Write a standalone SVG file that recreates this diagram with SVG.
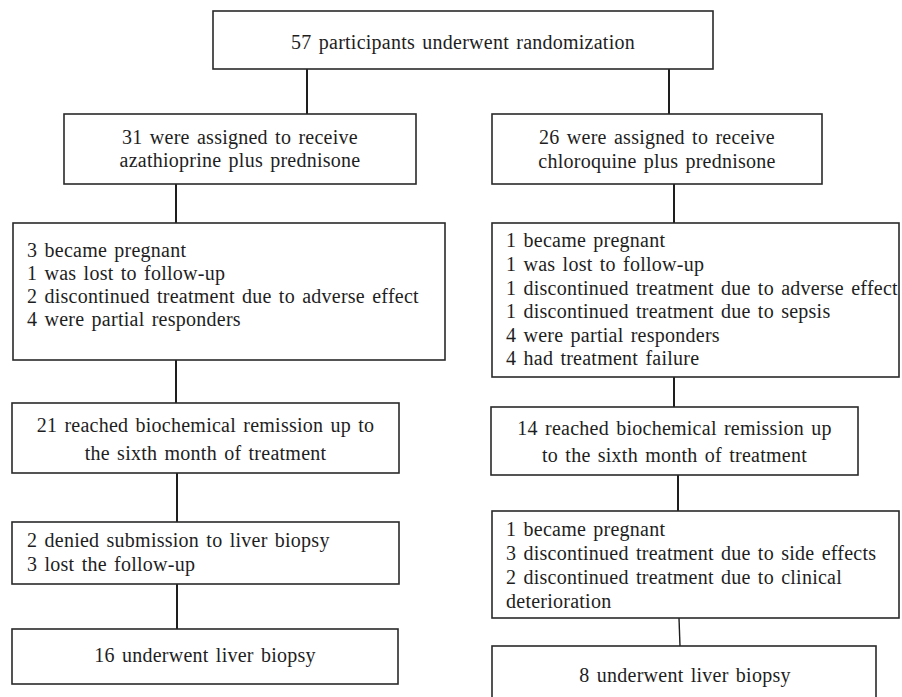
<svg xmlns="http://www.w3.org/2000/svg" width="902" height="697" viewBox="0 0 902 697">
<style>
.box{fill:#fff;stroke:#2a2a2a;stroke-width:1.6}
.t{font-family:"Liberation Serif","Times New Roman",serif;font-size:20px;fill:#1e1e1e;word-spacing:2px;letter-spacing:0.25px}
.c{text-anchor:middle}
.ln{stroke:#1e1e1e;stroke-width:2;fill:none}
</style>
<rect width="902" height="697" fill="#fff"/>
<g id="connectors">
<line class="ln" x1="307" y1="69" x2="307" y2="114"/>
<line class="ln" x1="669" y1="69" x2="669" y2="114"/>
<line class="ln" x1="176" y1="184" x2="176" y2="223"/>
<line class="ln" x1="176" y1="360" x2="176" y2="403"/>
<line class="ln" x1="177" y1="473" x2="177" y2="522"/>
<line class="ln" x1="177" y1="584" x2="177" y2="629"/>
<line class="ln" x1="674" y1="184" x2="674" y2="223"/>
<line class="ln" x1="674" y1="377" x2="674" y2="407"/>
<line class="ln" x1="678" y1="475" x2="678" y2="511"/>
<line class="ln" x1="679" y1="618" x2="680" y2="646" style="stroke-width:1.4"/>
</g>
<g id="n-random">
<rect class="box" x="213" y="11" width="500" height="58"/>
<text class="t c" x="463" y="49">57 participants underwent randomization</text>
</g>
<g id="n-aza">
<rect class="box" x="64" y="114" width="352" height="70"/>
<text class="t c" x="240" y="144">31 were assigned to receive</text>
<text class="t c" x="240" y="167">azathioprine plus prednisone</text>
</g>
<g id="n-aza-excl">
<rect class="box" x="13" y="223" width="432" height="137"/>
<text class="t" x="27" y="257">3 became pregnant</text>
<text class="t" x="27" y="280">1 was lost to follow-up</text>
<text class="t" x="27" y="303">2 discontinued treatment due to adverse effect</text>
<text class="t" x="27" y="326">4 were partial responders</text>
</g>
<g id="n-aza-remission">
<rect class="box" x="12" y="403" width="387" height="70"/>
<text class="t c" x="205.5" y="432">21 reached biochemical remission up to</text>
<text class="t c" x="205.5" y="460">the sixth month of treatment</text>
</g>
<g id="n-aza-excl2">
<rect class="box" x="12" y="522" width="387" height="62"/>
<text class="t" x="27" y="547">2 denied submission to liver biopsy</text>
<text class="t" x="27" y="571">3 lost the follow-up</text>
</g>
<g id="n-aza-biopsy">
<rect class="box" x="12" y="629" width="386" height="55"/>
<text class="t c" x="205" y="662">16 underwent liver biopsy</text>
</g>
<g id="n-chl">
<rect class="box" x="492" y="114" width="330" height="70"/>
<text class="t c" x="657" y="144">26 were assigned to receive</text>
<text class="t c" x="657" y="168">chloroquine plus prednisone</text>
</g>
<g id="n-chl-excl">
<rect class="box" x="492" y="223" width="407" height="154"/>
<text class="t" x="506" y="247">1 became pregnant</text>
<text class="t" x="506" y="271">1 was lost to follow-up</text>
<text class="t" x="506" y="295">1 discontinued treatment due to adverse effect</text>
<text class="t" x="506" y="318">1 discontinued treatment due to sepsis</text>
<text class="t" x="506" y="342">4 were partial responders</text>
<text class="t" x="506" y="365">4 had treatment failure</text>
</g>
<g id="n-chl-remission">
<rect class="box" x="491" y="407" width="367" height="68"/>
<text class="t c" x="674.5" y="435">14 reached biochemical remission up</text>
<text class="t c" x="674.5" y="462">to the sixth month of treatment</text>
</g>
<g id="n-chl-excl2">
<rect class="box" x="492" y="511" width="407" height="107"/>
<text class="t" x="506" y="536">1 became pregnant</text>
<text class="t" x="506" y="560">3 discontinued treatment due to side effects</text>
<text class="t" x="506" y="584">2 discontinued treatment due to clinical</text>
<text class="t" x="506" y="608">deterioration</text>
</g>
<g id="n-chl-biopsy">
<rect class="box" x="492" y="646" width="384" height="60"/>
<text class="t c" x="685" y="682">8 underwent liver biopsy</text>
</g>
</svg>
